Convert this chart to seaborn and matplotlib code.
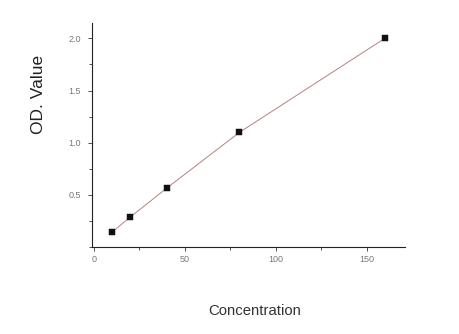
import matplotlib
matplotlib.use("Agg")
import matplotlib.pyplot as plt
import seaborn as sns
import pandas as pd
from matplotlib.ticker import MultipleLocator

concentration = [10, 20, 40, 80, 160]
od_value = [0.142, 0.286, 0.563, 1.098, 2.0]
x_ticks = [0, 50, 100, 150]
y_ticks = [0.5, 1.0, 1.5, 2.0]

df = pd.DataFrame({"Concentration": concentration, "OD. Value": od_value})

sns.set_theme(style="ticks")
plt.rcParams['font.family'] = ['Liberation Sans', 'DejaVu Sans']

fig = plt.figure(figsize=(4.6, 3.34), dpi=100)
ax = fig.add_axes([0.2, 0.2605, 0.68, 0.6715])

sns.lineplot(data=df, x="Concentration", y="OD. Value", ax=ax,
             color="#b98080", linewidth=0.7)
sns.scatterplot(data=df, x="Concentration", y="OD. Value", ax=ax,
                marker="s", s=16, color="#111111", edgecolor="#111111", zorder=3)

ax.set_xlim(-1, 171)
ax.set_ylim(0, 2.15)
ax.set_xticks(x_ticks)
ax.set_yticks(y_ticks)
ax.set_xticklabels([str(v) for v in x_ticks])
ax.set_yticklabels([f"{v:.1f}" for v in y_ticks])
ax.xaxis.set_minor_locator(MultipleLocator(25))
ax.yaxis.set_minor_locator(MultipleLocator(0.25))
ax.tick_params(axis="both", which="major", labelsize=6.5, labelcolor="#777777",
               length=3, width=0.6, color="#333333", direction="out")
ax.tick_params(axis="x", which="major", pad=3)
ax.tick_params(axis="y", which="major", pad=5)
ax.tick_params(axis="both", which="minor", length=2, width=0.6, color="#333333", direction="out")
for s in ["top", "right"]:
    ax.spines[s].set_visible(False)
for s in ["left", "bottom"]:
    ax.spines[s].set_linewidth(0.8)
    ax.spines[s].set_color("#222222")

ax.set_xlabel("Concentration", fontsize=10.7, color="#333333")
ax.set_ylabel("OD. Value", fontsize=12.5, color="#222222")
ax.xaxis.set_label_coords(0.52, -0.255)
ax.yaxis.set_label_coords(-0.147, 0.678)

fig.savefig("out.png", dpi=100)
